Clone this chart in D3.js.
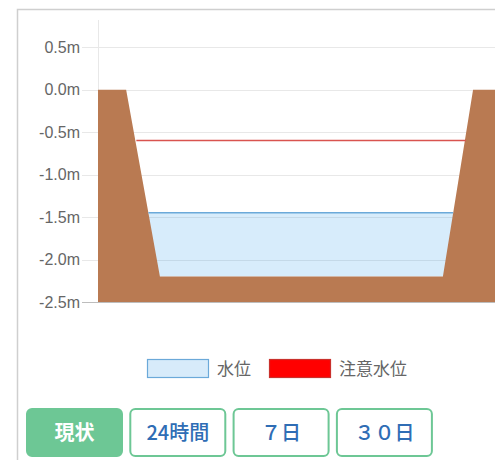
<!DOCTYPE html>
<html>
<head>
<meta charset="utf-8">
<script src="https://cdn.jsdelivr.net/npm/d3@7"></script>
<style>
  body { margin: 0; background: #fff; }
  svg { display: block; font-family: "Liberation Sans", Arial, sans-serif; }
</style>
</head>
<body>
<div id="chart"></div>
<script>
// y ticks (m)
var yTicks = [0.5, 0.0, -0.5, -1.0, -1.5, -2.0, -2.5]
// channel cross-section profile: x position (0-100 across plot), ground level (m)
var bankX = [0, 7, 15.4, 85.8, 93.3, 100]
var bankY = [0, 0, -2.2, -2.2, 0, 0]
var waterLevel = -1.45
var cautionLevel = -0.6
var legendLabels = ["水位", "注意水位"]
var buttonLabels = ["現状", "24時間", "７日", "３０日"]

var width = 495, height = 460

var svg = d3.select("#chart").append("svg")
    .attr("width", width)
    .attr("height", height)

// outer frame
svg.append("path")
    .attr("d", "M17.5,460V9.5H495")
    .attr("fill", "none")
    .attr("stroke", "#cfcfcf")
    .attr("stroke-width", 1.5)

var x = d3.scaleLinear().domain([0, 100]).range([98, 500])
var y = d3.scaleLinear().domain([-2.5, 0.82]).range([302, 20])

// grid
svg.append("g")
    .selectAll("line")
    .data(yTicks)
    .enter().append("line")
    .attr("x1", 82).attr("x2", 500)
    .attr("y1", function (d) { return Math.round(y(d)) + 0.5 })
    .attr("y2", function (d) { return Math.round(y(d)) + 0.5 })
    .attr("stroke", function (d) { return d === -2.5 ? "#bdbdbd" : "#e8e8e8" })
    .attr("stroke-width", 1)

svg.append("line")
    .attr("x1", 98.5).attr("x2", 98.5)
    .attr("y1", 20).attr("y2", 302)
    .attr("stroke", "#e8e8e8")

svg.append("g")
    .selectAll("text")
    .data(yTicks)
    .enter().append("text")
    .attr("x", 80)
    .attr("y", function (d) { return y(d) })
    .attr("dy", "0.35em")
    .attr("text-anchor", "end")
    .attr("font-size", 16)
    .attr("fill", "#666")
    .text(function (d) { return d.toFixed(1) + "m" })

var bank = bankX.map(function (v, i) { return [v, bankY[i]] })

// where a level meets the bank slopes
function crossings(level) {
    var out = []
    for (var i = 0; i < bank.length - 1; i++) {
        var a = bank[i], b = bank[i + 1]
        if ((a[1] - level) * (b[1] - level) < 0) {
            out.push(a[0] + (b[0] - a[0]) * (level - a[1]) / (b[1] - a[1]))
        }
    }
    return out
}

var wx = crossings(waterLevel)
var cx = crossings(cautionLevel)

// water fill
svg.append("rect")
    .attr("x", x(wx[0]))
    .attr("width", x(wx[1]) - x(wx[0]))
    .attr("y", y(waterLevel))
    .attr("height", y(-2.2) - y(waterLevel))
    .attr("fill", "rgba(54,162,235,0.2)")

// ground
var area = d3.area()
    .x(function (d) { return x(d[0]) })
    .y0(y(-2.5))
    .y1(function (d) { return y(d[1]) })

svg.append("path")
    .datum(bank)
    .attr("d", area)
    .attr("fill", "#b97a52")

// water surface
svg.append("line")
    .attr("x1", x(wx[0])).attr("x2", x(wx[1]))
    .attr("y1", y(waterLevel)).attr("y2", y(waterLevel))
    .attr("stroke", "#6ba9d9")
    .attr("stroke-width", 1.5)

// caution line
svg.append("line")
    .attr("x1", x(cx[0]) + 1).attr("x2", x(cx[1]) + 1)
    .attr("y1", y(cautionLevel)).attr("y2", y(cautionLevel))
    .attr("stroke", "#d9534f")
    .attr("stroke-width", 1.5)

// legend
var legend = svg.append("g").attr("font-family", "'Noto Sans CJK JP', sans-serif")
legend.append("rect")
    .attr("x", 147.5).attr("y", 359.5).attr("width", 61).attr("height", 18)
    .attr("fill", "#d7ebfa").attr("stroke", "#6ba9d9").attr("stroke-width", 1.2)
legend.append("text")
    .attr("x", 217).attr("y", 369).attr("dy", "0.35em")
    .attr("font-size", 17).attr("fill", "#666")
    .text(legendLabels[0])
legend.append("rect")
    .attr("x", 269.5).attr("y", 359.5).attr("width", 61).attr("height", 18)
    .attr("fill", "#ff0000").attr("stroke", "#c9302c").attr("stroke-width", 1.2)
legend.append("text")
    .attr("x", 339).attr("y", 369).attr("dy", "0.35em")
    .attr("font-size", 17).attr("fill", "#666")
    .text(legendLabels[1])

// buttons
var btn = svg.append("g")
    .selectAll("g")
    .data(buttonLabels)
    .enter().append("g")
    .attr("transform", function (d, i) { return "translate(" + (27 + i * 103.3) + ",409)" })

btn.append("rect")
    .attr("width", 95).attr("height", 47).attr("rx", 5)
    .attr("fill", function (d, i) { return i === 0 ? "#6dc795" : "#fff" })
    .attr("stroke", "#6dc795")
    .attr("stroke-width", 2)

btn.append("text")
    .attr("x", 47.5).attr("y", 24).attr("dy", "0.35em")
    .attr("text-anchor", "middle")
    .attr("font-family", "'Noto Sans CJK JP', sans-serif")
    .attr("font-size", 20)
    .attr("font-weight", function (d, i) { return i === 0 ? "bold" : "500" })
    .attr("fill", function (d, i) { return i === 0 ? "#fff" : "#2f6db5" })
    .text(function (d) { return d })
</script>
</body>
</html>
